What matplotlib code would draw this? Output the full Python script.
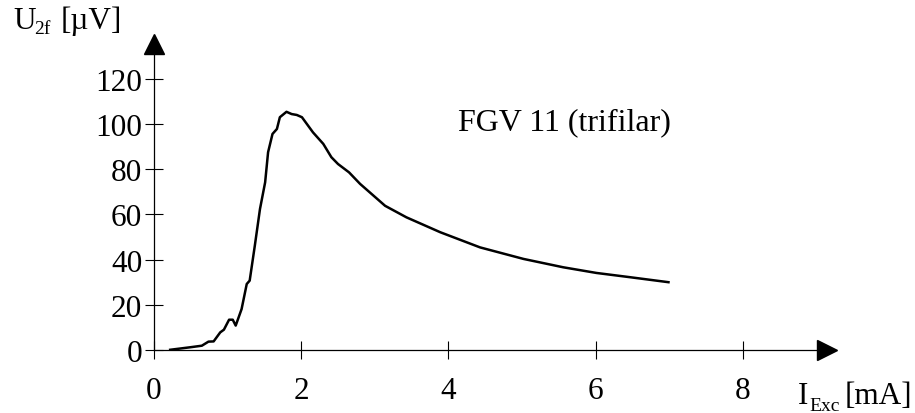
import matplotlib
matplotlib.use('Agg')
import matplotlib.pyplot as plt

plt.rcParams['font.family'] = ['Liberation Serif', 'DejaVu Serif']

# excitation current [mA] and second harmonic voltage [uV]
i_exc = [0.22, 0.49, 0.65, 0.74, 0.81, 0.90, 0.95, 1.02, 1.07, 1.11, 1.19, 1.26,
         1.30, 1.37, 1.44, 1.51, 1.55, 1.61, 1.67, 1.71, 1.80, 1.87, 1.94, 2.01,
         2.16, 2.30, 2.41, 2.50, 2.65, 2.80, 3.14, 3.43, 3.89, 4.43, 5.02, 5.56,
         6.01, 6.47, 6.99]
u_2f = [0.1, 1.2, 1.9, 3.7, 3.8, 7.8, 9.0, 13.4, 13.4, 10.8, 18.1, 29.2,
        30.7, 46.2, 62.4, 74.2, 87.5, 95.6, 97.8, 103.0, 105.4, 104.4, 104.0, 103.0,
        96.3, 91.2, 85.3, 82.3, 78.6, 73.5, 63.8, 58.7, 52.1, 45.4, 40.3, 36.6,
        34.1, 32.2, 30.0]

x_ticks = [0, 2, 4, 6, 8]
y_ticks = [0, 20, 40, 60, 80, 100, 120]

W, H = 915, 414
fig = plt.figure(figsize=(9.15, 4.14), dpi=100)
ax = fig.add_axes([154 / W, 63 / H, 684.5 / W, 316.4 / H])
ax.set_xlim(0, 9.3)
ax.set_ylim(0, 140)

ax.plot(i_exc, u_2f, color='black', lw=1.8)

# axes with arrow heads
for s in ['top', 'right']:
    ax.spines[s].set_visible(False)
ax.spines['left'].set_bounds(0, 132)
ax.spines['bottom'].set_bounds(0, 9.05)
ax.spines['left'].set_linewidth(0.9)
ax.spines['bottom'].set_linewidth(0.9)
ax.plot([0], [135.6], marker='^', ms=14, color='black', clip_on=False)
ax.plot([9.15], [0], marker='>', ms=14, color='black', clip_on=False)

ax.set_xticks(x_ticks)
ax.set_yticks(y_ticks)
ax.tick_params(direction='inout', length=13, width=0.8, labelsize=22.5)
ax.tick_params(axis='x', pad=12)
ax.tick_params(axis='y', pad=2)

ax.text(4.13, 101, 'FGV 11 (trifilar)', fontsize=23, va='center', ha='left')


def label(x, y, text, size):
    # x, y in pixels from top-left, y is the baseline
    fig.text(x / W, 1 - y / H, text, fontsize=size, va='baseline', ha='left')


label(13, 29, 'U', 22.5)
label(34, 34, '2f', 14)
label(61, 29, '[µV]', 22.5)

label(798, 404, 'I', 22.5)
label(809, 411, 'Exc', 14)
label(845, 404, '[mA]', 22.5)

fig.savefig('out.png', dpi=100)
